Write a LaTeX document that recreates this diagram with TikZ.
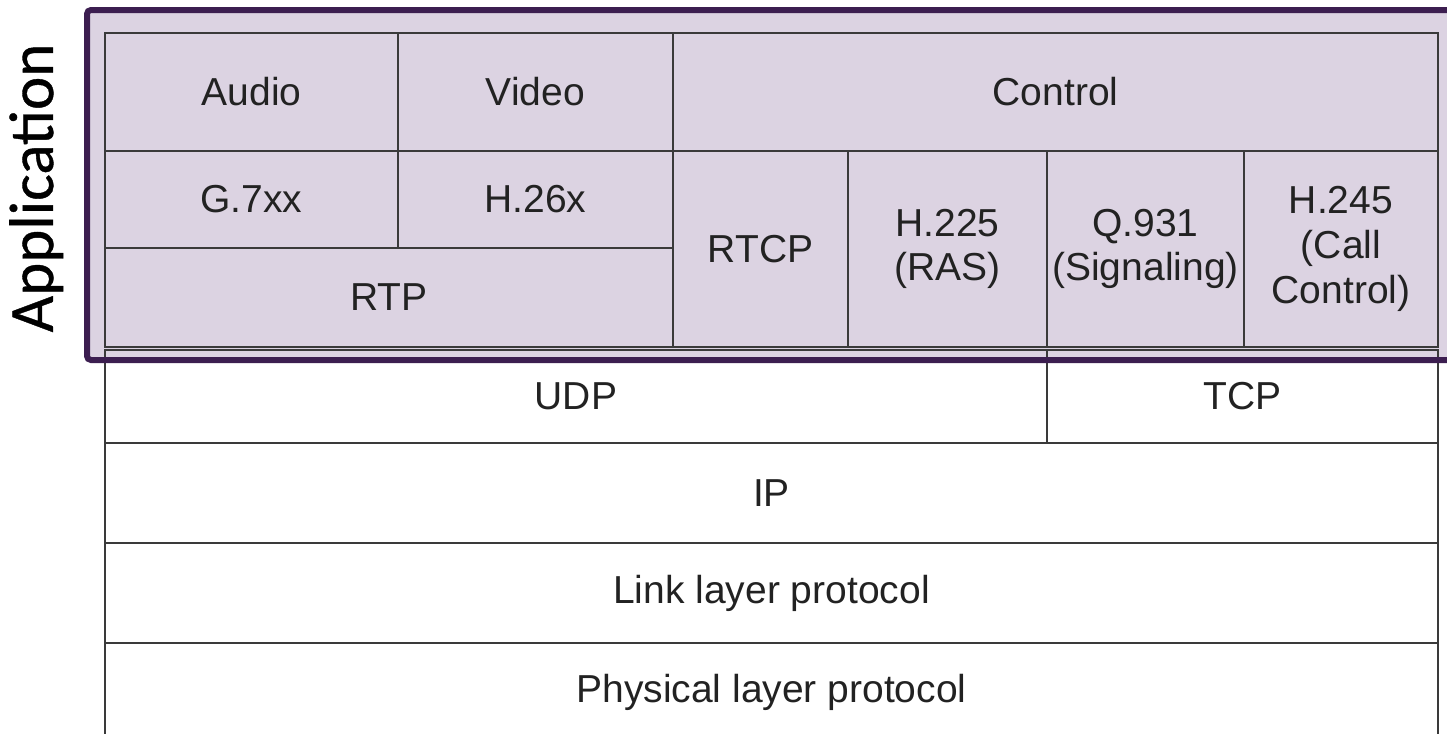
\documentclass[tikz,border=0pt]{standalone}
\usepackage{fontspec}
\setmainfont{Liberation Sans}
\newfontfamily\sidefont[FakeBold=0.6]{Carlito}
\usetikzlibrary{positioning}
\definecolor{apppurple}{HTML}{3C1E50}
\definecolor{appfill}{HTML}{DCD3E2}
\definecolor{gridgray}{HTML}{3A3A3A}
\definecolor{textgray}{HTML}{222222}
\tikzset{
	cell/.style 2 args={draw=gridgray, line width=0.8pt, inner sep=0pt, align=center,
			minimum width=#1, minimum height=#2,
			text=textgray, font=\fontsize{19.5}{22.3}\selectfont}
}
\tikzset{
	sidetext/.style={font=\sidefont\fontsize{31.5}{36}\selectfont, text=black, inner sep=0pt}
}

\begin{document}
\begin{tikzpicture}[x=0.5pt, y=-0.5pt]

              \useasboundingbox (0,0) rectangle (1447,734);

              % application band
              \fill[appfill, rounded corners=2pt] (87,10) rectangle (1470,360);

              \node[cell={146.5pt}{59pt}] (audio) at (251.5,92) {Audio};
              \node[cell={137.5pt}{59pt}] (video) at (535.5,92) {Video};
              \node[cell={382.5pt}{59pt}] (control) at (1055.5,92) {Control};

              \node[cell={146.5pt}{48.5pt}] (g7xx) at (251.5,199.5) {G.7xx};
              \node[cell={137.5pt}{48.5pt}] (h26x) at (535.5,199.5) {H.26x};
              \node[cell={284pt}{49.5pt}] (rtp) at (389,297.5) {RTP};

              \node[cell={87.5pt}{98pt}] (rtcp) at (760.5,249) {RTCP};
              \node[cell={99.5pt}{98pt}] (h225) at (947.5,249) {H.225\\(RAS)};
              \node[cell={98.5pt}{98pt}] (q931) at (1145.5,249) {Q.931\\(Signaling)};
              \node[cell={97pt}{98pt}] (h245) at (1341,249) {H.245\\(Call\\Control)};

              % transport and below
              \node[cell={471pt}{46.5pt}] (udp) at (576,396.5) {UDP};
              \node[cell={195.5pt}{46.5pt}] (tcp) at (1242.5,396.5) {TCP};
              \node[cell={666.5pt}{50pt}] (ip) at (771.5,493) {IP};
              \node[cell={666.5pt}{50pt}] (link) at (771.5,593) {Link layer protocol};
              \node[cell={666.5pt}{49pt}] (phys) at (771.5,692) {Physical layer protocol};

              \draw[apppurple, line width=3pt, rounded corners=2pt] (87,10) rectangle (1470,360);

              \node[sidetext, rotate=90, anchor=base] (applabel) at (53,188) {Application};

            \end{tikzpicture}
\end{document}
